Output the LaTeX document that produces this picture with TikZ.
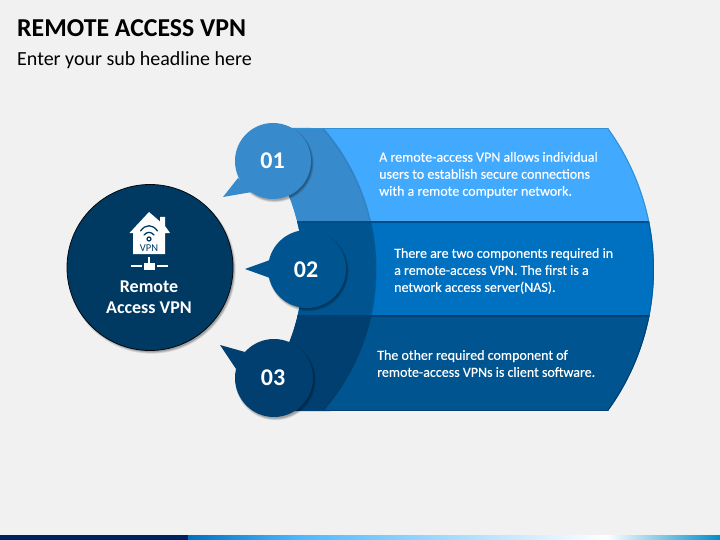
\documentclass[tikz,border=0pt]{standalone}
\usepackage{fontspec}
\setmainfont{Carlito}
\newfontface\bodyface[FakeBold=0.25]{Carlito}
\definecolor{bgc}{HTML}{F1F1F1}
\definecolor{bandA}{HTML}{41AAFF}
\definecolor{bandB}{HTML}{0070C0}
\definecolor{bandC}{HTML}{00548F}
\definecolor{darkA}{HTML}{378ACB}
\definecolor{midB}{HTML}{00548F}
\definecolor{darkC}{HTML}{003F70}
\definecolor{edgeA}{HTML}{338FD6}
\definecolor{sepc}{HTML}{004E86}
\definecolor{navy}{HTML}{003A63}
\definecolor{barn}{HTML}{002060}
\newcommand{\softshadow}[3]{%
  \fill[black,opacity=.10] (#1+1.5,#2+2) circle [radius=#3+1.2];
  \fill[black,opacity=.12] (#1+1.5,#2+2) circle [radius=#3+.4];
  \fill[black,opacity=.14] (#1+1.5,#2+2) circle [radius=#3-.4];
}
\tikzset{
  numdisc/.style={circle,minimum size=#1,inner sep=0pt},
  numtext/.style={text=white,inner sep=0pt,font=\fontsize{24}{26}\selectfont\bfseries},
  bodytext/.style={anchor=west,align=left,text=white,inner sep=0pt,font=\fontsize{14}{17}\selectfont\bodyface},
  wifi/.style={draw=navy,line width=1.3pt,line cap=round},
  nodeline/.style={draw=white,line width=1.2pt}
}
\begin{document}
\begin{tikzpicture}[x=1pt,y=-1pt]
\useasboundingbox (0,0) rectangle (720,540);
\fill[bgc] (0,0) rectangle (720,540);
% bottom bar
\fill[barn] (0,535) rectangle (188,540);
\shade[left color=bandB,right color=cyan!60!blue!70!white] (188,535) rectangle (298,540);
\shade[left color=cyan!60!blue!70!white,right color=white] (298,535) rectangle (606,540);
\shade[left color=white,right color=bandB!80!cyan] (606,535) rectangle (720,540);
% title
\node[anchor=west,inner sep=0pt,font=\fontsize{25.8}{28}\selectfont\bfseries,text=black] (title) at (17,28) {REMOTE ACCESS VPN};
\node[anchor=west,inner sep=0pt,font=\fontsize{20}{22}\selectfont,text=black] (subtitle) at (17,60) {Enter your sub headline here};
% bands
\begin{scope}
\clip plot[domain=-36.02:36.02,samples=50] ({413.4+240.6*cos(\x)},{269.5+240.6*sin(\x)})
  -- (285,411) -- (285,345)
  -- plot[domain=22:-22,samples=30] ({103+200*cos(\x)},{269.5+200*sin(\x)})
  -- (285,190) -- (285,128) -- cycle;
\fill[bandA] (200,128) rectangle (700,222);
\fill[bandB] (200,222) rectangle (700,316);
\fill[bandC] (200,316) rectangle (700,411);
\begin{scope}
\clip plot[domain=-41.2:41.2,samples=50] ({160+215*cos(\x)},{269.5+215*sin(\x)}) -- (200,411) -- (200,128) -- cycle;
\fill[darkA] (200,128) rectangle (700,222);
\fill[midB] (200,222) rectangle (700,316);
\fill[darkC] (200,316) rectangle (700,411);
\end{scope}
\draw[black,opacity=.22,line width=1.4pt] plot[domain=-41.2:41.2,samples=50] ({160.8+215*cos(\x)},{269.5+215*sin(\x)});
\draw[edgeA,line width=2.4pt] (200,128) -- (700,128);
\draw[sepc,line width=1.6pt] (200,222) -- (700,222);
\draw[darkC,line width=1.6pt] (200,316) -- (700,316);
\draw[darkC,line width=2.4pt] (200,411) -- (700,411);
\begin{scope}
\clip (200,120) rectangle (700,222);
\draw[edgeA,line width=2pt] plot[domain=-36.02:36.02,samples=50] ({413.4+240.6*cos(\x)},{269.5+240.6*sin(\x)});
\end{scope}
\begin{scope}
\clip (200,222) rectangle (700,316);
\draw[bandB!85!black,line width=2pt] plot[domain=-36.02:36.02,samples=50] ({413.4+240.6*cos(\x)},{269.5+240.6*sin(\x)});
\end{scope}
\begin{scope}
\clip (200,316) rectangle (700,420);
\draw[darkC,line width=2pt] plot[domain=-36.02:36.02,samples=50] ({413.4+240.6*cos(\x)},{269.5+240.6*sin(\x)});
\end{scope}
\end{scope}
% big circle
\softshadow{150}{267.5}{83}
\node[circle,minimum size=166pt,inner sep=0pt,fill=navy,draw=black!85!navy,line width=.8pt] (hub) at (150,267.5) {};
% icon
\fill[white] (149,212) -- (160,221.5) -- (160,217) -- (165,217) -- (165,226) -- (170,233) -- (165,233) -- (165,254) -- (133,254) -- (133,233) -- (129.5,233) -- cycle;
\draw[wifi] (140.5,231) .. controls (145.5,224) and (152.5,224) .. (157.5,231);
\draw[wifi] (144,235) .. controls (147,231.5) and (151,231.5) .. (154,235);
\draw[navy,line width=1.2pt] (149,239) circle [radius=2];
\node[inner sep=0pt,text=navy,font=\fontsize{10.5}{11}\selectfont] (iconvpn) at (149,248) {VPN};
\draw[nodeline] (149,257) -- (149,263);
\fill[white] (144,263) rectangle (155,269.5);
\draw[nodeline] (131,266) -- (142,266);
\draw[nodeline] (157,266) -- (168,266);
\node[align=center,inner sep=0pt,text=white,font=\fontsize{18}{21}\selectfont\bfseries] (hubtext) at (149,297.5) {Remote\\Access VPN};
% discs
\softshadow{273}{161}{38}
\fill[darkA] (223,197) -- (238,178) -- (252,192) -- cycle;
\node[numdisc=76pt,fill=darkA] (n1) at (273,161) {};
\node[numtext] (n1t) at (272.5,161) {01};
\softshadow{307}{269}{39}
\fill[midB] (245,269) -- (270,260) -- (270,278) -- cycle;
\node[numdisc=78pt,fill=midB] (n2) at (307,269) {};
\node[numtext] (n2t) at (306,270) {02};
\softshadow{274}{378}{39}
\fill[darkC] (220,345) -- (245,352) -- (236,369) -- cycle;
\node[numdisc=78pt,fill=darkC] (n3) at (274,378) {};
\node[numtext] (n3t) at (273,378) {03};
% text
\node[bodytext] (t1) at (379,175) {A remote-access VPN allows individual\\users to establish secure connections\\with a remote computer network.};
\node[bodytext] (t2) at (394,271) {There are two components required in\\a remote-access VPN. The first is a\\network access server(NAS).};
\node[bodytext] (t3) at (377,363.5) {The other required component of\\remote-access VPNs is client software.};
\end{tikzpicture}
\end{document}
